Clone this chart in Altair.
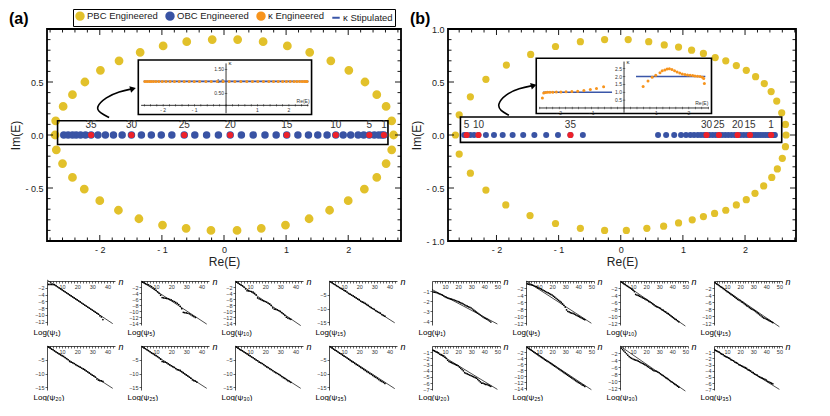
import altair as alt
import pandas as pd

FONT = "Liberation Sans"
YELLOW = "#E2C12B"
BLUE = "#3953A4"
RED = "#EE2129"
ORANGE = "#F7941D"
SBLUE = "#3A56A8"
SERIES = ["PBC Engineered", "OBC Engineered", "κ Engineered", "κ Stipulated"]
SER_COLORS = [YELLOW, BLUE, ORANGE, SBLUE]
SER_SHAPES = ["circle", "circle", "circle", "stroke"]

# ---------------- panel (a) data ----------------
a_pbc_x = [-2.72, -2.71, -2.59, -2.44, -2.24, -1.99, -1.69, -1.35, -0.98, -0.60, -0.19,
           0.22, 0.63, 1.02, 1.38, 1.72, 2.01, 2.27, 2.46, 2.61, 2.70, 2.73,
           2.70, 2.61, 2.46, 2.26, 2.00, 1.70, 1.37, 0.99, 0.60, 0.21,
           -0.21, -0.61, -0.99, -1.37, -1.70, -2.00, -2.25, -2.44, -2.60, -2.70]
a_pbc_y = [0.0, 0.134, 0.27, 0.38, 0.50, 0.61, 0.70, 0.78, 0.84, 0.88, 0.90,
           0.90, 0.88, 0.84, 0.78, 0.70, 0.61, 0.50, 0.38, 0.27, 0.134, 0.0,
           -0.14, -0.27, -0.40, -0.51, -0.62, -0.71, -0.79, -0.85, -0.88, -0.90,
           -0.90, -0.88, -0.85, -0.79, -0.71, -0.62, -0.51, -0.40, -0.27, -0.14]
a_obc_x = [-2.58, -2.51, -2.44, -2.38, -2.31, -2.23, -2.14, -2.03, -1.91, -1.78,
           -1.64, -1.49, -1.33, -1.17, -1.01, -0.84, -0.64, -0.47, -0.28, -0.09,
           0.10, 0.28, 0.47, 0.66, 0.84, 1.01, 1.19, 1.36, 1.51, 1.66,
           1.80, 1.92, 2.04, 2.16, 2.25, 2.34, 2.42, 2.49, 2.54, 2.575]
a_red_x = [2.575, 2.34, 1.80, 1.01, 0.10, -0.64, -1.49, -2.14]
a_red_lab = ["1", "5", "10", "15", "20", "25", "30", "35"]
a_kappa_x = a_obc_x
a_kappa_y = [1.0, 1.0, 1.0, 1.0, 1.0, 1.0, 1.0, 1.0, 1.0, 1.0,
             1.0, 1.0, 1.0, 1.0, 1.0, 1.0, 1.0, 1.0, 1.0, 1.0,
             1.0, 1.0, 1.0, 1.0, 1.0, 1.0, 1.0, 1.0, 1.0, 1.0,
             1.0, 1.0, 1.0, 1.0, 1.0, 1.0, 1.0, 1.0, 1.0, 1.0]
a_stip_x = [-2.62, 2.62]
a_stip_y = [1.0, 1.0]
a_stip_seg = ["s1", "s1"]
a_arrow_x = [-1.85, -2.0, -2.07, -1.90, -1.69, -1.465]
a_arrow_y = [0.165, 0.21, 0.26, 0.357, 0.41, 0.437]

# ---------------- panel (b) data ----------------
b_pbc_x = [-2.66, -2.60, -2.42, -2.17, -1.84, -1.45, -1.05, -0.65, -0.26, 0.12, 0.45,
           0.70, 0.93, 1.14, 1.33, 1.52, 1.69, 1.86, 2.02, 2.17, 2.31, 2.42, 2.51,
           2.59, 2.65, 2.66,
           -2.60, -2.42, -2.17, -1.85, -1.46, -1.05, -0.65, -0.26, 0.09, 0.42, 0.69,
           0.93, 1.15, 1.33, 1.51, 1.69, 1.86, 2.02, 2.16, 2.30, 2.43, 2.52, 2.60, 2.65]
b_pbc_y = [0.0, 0.19, 0.36, 0.525, 0.66, 0.76, 0.835, 0.88, 0.90, 0.90, 0.88,
           0.85, 0.83, 0.80, 0.77, 0.73, 0.70, 0.655, 0.61, 0.55, 0.485, 0.41, 0.32,
           0.21, 0.10, 0.0,
           -0.18, -0.36, -0.52, -0.66, -0.76, -0.835, -0.88, -0.90, -0.90, -0.88, -0.86,
           -0.83, -0.80, -0.77, -0.74, -0.71, -0.66, -0.61, -0.55, -0.48, -0.40, -0.32, -0.22, -0.11]
b_obc_x = [-2.52, -2.48, -2.42, -2.36, -2.29, -2.17, -2.04, -1.90, -1.74, -1.57,
           -1.39, -1.20, -1.01, -0.81, -0.61,
           0.60, 0.73, 0.86, 0.97, 1.05, 1.12, 1.18, 1.24, 1.29, 1.34, 1.38, 1.43,
           1.48, 1.53, 1.58, 1.63, 1.68, 1.73, 1.78, 1.83, 1.88, 1.93, 1.98, 2.03,
           2.08, 2.13, 2.17, 2.21, 2.25, 2.29, 2.33, 2.37, 2.40, 2.43, 2.46, 2.48]
b_red_x = [-2.48, -2.29, -0.81, 1.38, 1.58, 1.88, 2.08, 2.42]
b_red_lab = ["5", "10", "35", "30", "25", "20", "15", "1"]
b_kappa_x = [-2.52, -2.48, -2.42, -2.36, -2.29, -2.20, -2.09, -1.95, -1.79, -1.61,
             -1.43, -1.24, -1.04, -0.85, -0.63,
             0.59, 0.74, 0.87, 0.98, 1.11, 1.18, 1.26, 1.33, 1.40, 1.48, 1.56, 1.64,
             1.72, 1.80, 1.88, 1.96, 2.04, 2.12, 2.19, 2.27, 2.35, 2.42, 2.46, 2.48]
b_kappa_y = [0.64, 0.95, 0.99, 1.0, 1.0, 1.0, 1.01, 1.02, 1.03, 1.05,
             1.07, 1.11, 1.17, 1.23, 1.35,
             1.37, 1.72, 1.96, 2.08, 2.24, 2.37, 2.41, 2.47, 2.49, 2.45, 2.37, 2.29,
             2.23, 2.16, 2.12, 2.10, 2.08, 2.06, 2.04, 2.02, 2.00, 1.96, 1.88, 1.55]
b_stip_x = [-2.50, -0.37, 0.37, 2.51]
b_stip_y = [1.0, 1.0, 2.0, 2.0]
b_stip_seg = ["s1", "s1", "s2", "s2"]
b_arrow_x = [-1.80, -1.94, -1.99, -1.85, -1.64, -1.40]
b_arrow_y = [0.187, 0.23, 0.29, 0.385, 0.44, 0.468]

# ---------------- small panels: log|psi_n| vs n ----------------
a_labels = ["Log(ψ₁)", "Log(ψ₅)", "Log(ψ₁₀)", "Log(ψ₁₅)", "Log(ψ₂₀)", "Log(ψ₂₅)", "Log(ψ₃₀)", "Log(ψ₃₅)"]
b_labels = ["Log(ψ₁)", "Log(ψ₅)", "Log(ψ₁₀)", "Log(ψ₁₅)", "Log(ψ₂₀)", "Log(ψ₂₅)", "Log(ψ₃₀)", "Log(ψ₃₅)"]
a_psi = [
    [-1.0, -1.0, -1.0, -1.05, -1.1, -1.4, -1.7, -2.0, -2.3, -2.6, -2.9, -3.2, -3.5, -3.8, -4.1, -4.4,
     -4.7, -5.0, -5.3, -5.6, -5.9, -6.2, -6.5, -6.8, -7.1, -7.4, -7.7, -8.0, -8.3, -8.6, -8.9, -9.2,
     -9.5, -9.8, -10.3, -10.6, -11.4],
    [-0.4, -0.6, -0.9, -1.1, -1.3, -1.6, -1.9, -2.3, -2.7, -3.1, -3.6, -4.1, -4.7, -5.5, -5.6, -5.7,
     -5.8, -5.9, -6.1, -6.3, -6.6, -6.8, -7.1, -7.4, -7.8, -8.4, -9.2, -10.4, -10.5, -10.6, -10.7,
     -10.9, -11.2, -11.5, -11.8, -12.1],
    [-0.4, -0.7, -1.0, -1.3, -1.6, -2.0, -2.6, -3.2, -3.3, -3.4, -3.5, -3.7, -4.1, -4.6, -5.6, -5.9,
     -6.1, -6.4, -6.6, -6.8, -7.0, -7.3, -7.6, -8.1, -8.9, -9.3, -9.4, -9.6, -9.8, -10.1, -10.5,
     -10.9, -11.4, -12.0, -12.3, -12.5, -12.7],
    [-0.3, -0.6, -1.0, -1.3, -1.7, -2.0, -2.4, -2.7, -3.0, -3.4, -3.6, -4.0, -4.5, -4.8, -5.1, -5.4,
     -5.8, -6.1, -6.5, -6.8, -7.3, -7.6, -7.8, -8.1, -8.5, -8.9, -9.3, -9.7, -10.0, -10.3, -10.8,
     -11.1, -11.4, -11.7, -12.2, -12.5, -12.8],
    [-0.4, -0.7, -1.1, -1.4, -1.8, -2.2, -2.5, -2.9, -3.2, -3.5, -3.8, -4.2, -4.6, -5.0, -5.6, -5.9,
     -6.1, -6.4, -6.8, -7.1, -7.4, -7.7, -8.0, -8.3, -8.6, -9.0, -9.4, -9.8, -10.2, -10.6, -10.9,
     -11.3, -12.0, -12.4, -12.6, -12.7, -12.9],
    [-0.3, -0.7, -1.0, -1.4, -1.7, -2.1, -2.5, -2.8, -3.2, -3.5, -3.9, -4.3, -4.8, -5.6, -5.8, -5.9,
     -6.1, -6.5, -6.9, -7.2, -7.5, -7.8, -8.2, -8.6, -8.7, -8.9, -9.3, -9.7, -10.1, -10.5, -10.9,
     -11.3, -11.7, -12.3, -12.6, -12.8, -13.1],
    [-0.4, -0.8, -1.2, -1.5, -1.8, -2.2, -2.5, -2.9, -3.3, -3.6, -4.0, -4.3, -4.7, -5.1, -5.4, -5.9,
     -6.1, -6.4, -6.8, -7.2, -7.6, -7.9, -8.3, -8.6, -9.0, -9.4, -9.7, -10.0, -10.3, -10.7, -11.1,
     -11.5, -11.8, -12.2, -12.6, -12.9, -13.2],
    [-0.3, -0.7, -1.1, -1.5, -1.8, -2.2, -2.6, -2.9, -3.3, -3.7, -4.0, -4.4, -4.8, -5.2, -5.6, -5.9,
     -6.3, -6.7, -7.0, -7.4, -7.8, -8.1, -8.5, -8.9, -9.3, -9.6, -10.0, -10.3, -10.7, -11.1, -11.4,
     -11.8, -12.2, -12.6, -12.9, -13.2, -13.6],
]
a_line_y0 = [0.3, 0.0, 0.0, 0.0, 0.0, 0.0, 0.0, 0.0]
a_line_y1 = [-12.6, -14.3, -14.8, -15.2, -15.4, -15.4, -15.4, -15.5]
a_yticks = [[-2, -4, -6, -8, -10, -12]] + [[-2, -4, -6, -8, -10, -12, -14]] * 2 + [[-5, -10, -15]] * 5
a_ydom = [[-13, 0], [-14.6, 0], [-14.6, 0], [-16, 0], [-16, 0], [-16, 0], [-16, 0], [-16, 0]]

b_psi = [
    [-1.10, -1.12, -1.15, -1.18, -1.25, -1.30, -1.35, -1.42, -1.50, -1.58, -1.64, -1.70, -1.74, -1.78,
     -1.82, -1.86, -1.90, -1.95, -2.00, -2.06, -2.12, -2.18, -2.24, -2.30, -2.38, -2.46, -2.52, -2.58,
     -2.63, -2.70, -2.80, -2.92, -3.02, -3.12, -3.22, -3.30, -3.40, -3.50, -3.60, -3.68, -3.75, -3.82,
     -3.90, -4.00, -4.10],
    [-0.8, -0.9, -1.0, -1.1, -1.2, -1.3, -1.5, -1.6, -1.8, -2.0, -2.2, -2.4, -2.6, -2.8, -3.0, -3.2,
     -3.4, -3.6, -3.8, -4.0, -4.3, -4.6, -4.9, -5.2, -5.5, -5.8, -6.1, -6.5, -6.9, -7.4, -8.2, -8.6,
     -8.8, -9.0, -9.1, -9.2, -9.4, -9.6, -9.8, -10.0, -10.2, -10.4, -10.6, -10.8, -11.0],
    [-0.3, -0.5, -0.8, -1.0, -1.3, -1.5, -1.8, -2.0, -2.3, -2.6, -3.0, -3.8, -4.0, -4.1, -4.3, -4.5,
     -4.7, -4.9, -5.1, -5.3, -5.5, -5.8, -6.0, -6.2, -6.5, -6.8, -7.1, -7.3, -7.4, -7.6, -7.8, -8.1,
     -8.3, -8.6, -8.8, -9.1, -9.3, -9.6, -9.9, -10.2, -10.5, -10.8, -11.0, -11.3, -11.6],
    [-0.5, -0.8, -1.0, -1.3, -1.6, -1.8, -2.1, -2.4, -2.7, -3.0, -3.2, -3.5, -3.8, -4.0, -4.3, -4.6,
     -4.9, -5.2, -5.4, -5.6, -5.9, -6.1, -6.4, -6.7, -7.0, -7.2, -7.5, -7.8, -8.0, -8.2, -8.4, -8.7,
     -9.0, -9.3, -9.6, -9.9, -10.2, -10.5, -10.6, -10.8, -11.0, -11.2, -11.4, -11.6, -11.8],
    [-0.7, -0.8, -0.9, -1.0, -1.1, -1.3, -1.4, -1.5, -1.6, -1.8, -2.0, -2.3, -2.5, -2.6, -2.7, -2.8,
     -2.9, -3.0, -3.1, -3.2, -3.4, -3.6, -3.8, -4.0, -4.3, -4.4, -4.5, -4.6, -4.7, -4.8, -4.9, -5.0,
     -5.1, -5.2, -5.4, -5.6, -5.8, -6.0, -6.0, -6.1, -6.2, -6.2, -6.3, -6.4, -6.5],
    [-0.5, -0.8, -1.1, -1.4, -1.7, -2.0, -2.3, -2.6, -2.9, -3.2, -3.5, -3.8, -4.1, -4.4, -4.7, -5.0,
     -5.2, -5.5, -5.8, -6.1, -6.4, -6.7, -7.0, -7.3, -7.6, -7.9, -8.2, -8.5, -8.8, -9.1, -9.4, -9.7,
     -10.0, -10.3, -10.6, -10.9, -11.2, -11.5, -11.8, -12.1, -12.3, -12.6, -12.9, -13.1, -13.4],
    [-0.6, -1.0, -1.4, -1.8, -2.2, -2.6, -3.0, -3.3, -3.5, -3.7, -3.9, -4.0, -4.1, -4.3, -4.5, -4.7,
     -4.9, -5.1, -5.3, -5.5, -5.8, -6.0, -6.3, -6.5, -6.8, -7.0, -7.1, -7.2, -7.4, -7.6, -7.9, -8.2,
     -8.4, -8.7, -9.0, -9.2, -9.5, -9.8, -10.1, -10.3, -10.6, -10.9, -11.1, -11.4, -11.7],
    [-0.7, -0.8, -0.9, -1.0, -1.2, -1.3, -1.4, -1.6, -1.7, -1.8, -1.9, -2.0, -2.2, -2.3, -2.4, -2.6,
     -2.7, -2.8, -3.0, -3.1, -3.2, -3.3, -3.4, -3.5, -3.6, -3.8, -3.9, -4.0, -4.2, -4.3, -4.5, -4.6,
     -4.7, -4.9, -5.0, -5.1, -5.2, -5.3, -5.4, -5.5, -5.7, -5.8, -5.9, -6.0, -6.1],
]
b_line_y0 = [-0.85, 0.0, 0.0, -0.3, -0.6, -0.2, 0.0, -0.5]
b_line_y1 = [-4.3, -12.0, -12.8, -13.0, -7.0, -14.5, -12.8, -7.0]
b_yticks = [[-1, -2, -3, -4], [-2, -4, -6, -8, -10, -12], [-2, -4, -6, -8, -10, -12],
            [-2, -4, -6, -8, -10, -12], [-1, -2, -3, -4, -5, -6, -7],
            [-2, -4, -6, -8, -10, -12, -14], [-2, -4, -6, -8, -10, -12], [-1, -2, -3, -4, -5, -6, -7]]
b_ydom = [[-4.4, 0], [-12.5, 0], [-12.5, 0], [-12.5, 0], [-7.1, 0], [-14.6, 0], [-12.5, 0], [-7.1, 0]]


def fmt(d):
    return ("datum.value < 0 ? '- ' + format(-datum.value, '%s') : format(datum.value, '%s')" % (d, d))


PANELS = {
    "a": dict(W=354, H=212, xdom=[-2.85, 2.85], ylab=[-0.5, 0, 0.5],
              pbc=(a_pbc_x, a_pbc_y), obc=a_obc_x, red=(a_red_x, a_red_lab),
              box=[-2.68, 2.64, -0.09, 0.134],
              frame=[-1.38, 1.41, 0.194, 0.707], in_x=[-2.79, 2.72], in_y=[-0.38, 1.89],
              haxis=[-2.7, 2.62], vaxis=[-0.33, 1.75],
              kap=(a_kappa_x, a_kappa_y), stip=(a_stip_x, a_stip_y, a_stip_seg),
              kx=[-2, -1, 1, 2], ky=[0.5, 1.0, 1.5], kyl=["0.50", "1.0", "1.50"],
              klab=(0.08, 1.78), relab=(2.45, 0.2),
              arrow=(a_arrow_x, a_arrow_y), tag="(a)"),
    "b": dict(W=348, H=212, xdom=[-2.78, 2.82], ylab=[-1, -0.5, 0, 0.5, 1],
              pbc=(b_pbc_x, b_pbc_y), obc=b_obc_x, red=(b_red_x, b_red_lab),
              box=[-2.58, 2.59, -0.07, 0.17],
              frame=[-1.36, 1.46, 0.203, 0.724], in_x=[-2.71, 2.70], in_y=[-0.35, 3.16],
              haxis=[-2.62, 2.62], vaxis=[-0.3, 2.95],
              kap=(b_kappa_x, b_kappa_y), stip=(b_stip_x, b_stip_y, b_stip_seg),
              kx=[-2, -1, 1, 2], ky=[0.5, 1.0, 1.5, 2.0, 2.5], kyl=["0.5", "1.0", "1.5", "2.0", "2.5"],
              klab=(0.08, 2.9), relab=(2.4, 0.3),
              arrow=(b_arrow_x, b_arrow_y), tag="(b)"),
}


def build_panel(p, with_legend):
    W, H = p["W"], p["H"]
    xd, yd = p["xdom"], [-1.0, 1.0]
    X = alt.X("x:Q", scale=alt.Scale(domain=xd, nice=False, zero=False),
              axis=alt.Axis(values=[-2, -1, 0, 1, 2], labelExpr=fmt("d"), title="Re(E)",
                            ticks=False, domain=False, grid=False, labelFontSize=9,
                            labelColor="#222", labelPadding=4, titleFontSize=12,
                            titleFontWeight="normal", titlePadding=2, titleColor="#222"))
    Y = alt.Y("y:Q", scale=alt.Scale(domain=yd, nice=False, zero=False),
              axis=alt.Axis(values=p["ylab"], labelExpr=fmt(".1f"), title="Im(E)",
                            ticks=False, domain=False, grid=False, labelFontSize=9,
                            labelColor="#222", labelPadding=4, titleFontSize=12,
                            titleFontWeight="normal", titlePadding=2, titleColor="#222"))
    layers = []
    pbc_df = pd.DataFrame({"x": p["pbc"][0], "y": p["pbc"][1], "series": SERIES[0]})
    obc_df = pd.DataFrame({"x": p["obc"], "y": [0.0] * len(p["obc"]), "series": SERIES[1]})
    if with_legend:
        leg = alt.Legend(title=None, orient="none", legendX=26, legendY=-20, direction="horizontal",
                         strokeColor="black", padding=2, labelFontSize=9.5, labelColor="#222",
                         symbolSize=55, symbolStrokeWidth=2, columnPadding=4, labelOffset=2,
                         fillColor="white")
        enc = dict(
            color=alt.Color("series:N", scale=alt.Scale(domain=SERIES, range=SER_COLORS), legend=leg),
            shape=alt.Shape("series:N", scale=alt.Scale(domain=SERIES, range=SER_SHAPES), legend=leg),
            stroke=alt.Stroke("series:N", scale=alt.Scale(domain=SERIES, range=SER_COLORS), legend=leg),
        )
        layers.append(alt.Chart(pbc_df).mark_point(filled=True, opacity=1, size=46).encode(x=X, y=Y, **enc))
        obc_layer = alt.Chart(obc_df).mark_point(filled=True, opacity=1, size=30).encode(x=X, y=Y, **enc)
    else:
        layers.append(alt.Chart(pbc_df).mark_point(filled=True, opacity=1, size=52, shape="circle",
                                                   color=YELLOW).encode(x=X, y=Y))
        obc_layer = alt.Chart(obc_df).mark_point(filled=True, opacity=1, size=36, shape="circle",
                                                 color=BLUE).encode(x=X, y=Y)
    bx = p["box"]
    box_df = pd.DataFrame({"x": [bx[0]], "x2": [bx[1]], "y": [bx[2]], "y2": [bx[3]]})
    layers.append(alt.Chart(box_df).mark_rect(fillOpacity=0, stroke="black", strokeWidth=1.6)
                  .encode(x=X, x2="x2:Q", y=Y, y2="y2:Q"))
    layers.append(obc_layer)
    red_df = pd.DataFrame({"x": p["red"][0], "y": [0.0] * len(p["red"][0]), "lab": p["red"][1]})
    layers.append(alt.Chart(red_df).mark_point(filled=True, opacity=1, size=38, shape="circle",
                                               color=RED).encode(x=X, y=Y))
    lab_df = pd.DataFrame({"x": p["red"][0], "y": [0.045] * len(p["red"][0]), "lab": p["red"][1]})
    layers.append(alt.Chart(lab_df).mark_text(fontSize=10, baseline="bottom", color="#333")
                  .encode(x=X, y=Y, text="lab:N"))
    fr = p["frame"]
    fr_df = pd.DataFrame({"x": [fr[0]], "x2": [fr[1]], "y": [fr[2]], "y2": [fr[3]]})
    layers.append(alt.Chart(fr_df).mark_rect(fill="white", stroke="black", strokeWidth=1.6)
                  .encode(x=X, x2="x2:Q", y=Y, y2="y2:Q"))
    ar_df = pd.DataFrame({"x": p["arrow"][0], "y": p["arrow"][1], "o": list(range(len(p["arrow"][0])))})
    layers.append(alt.Chart(ar_df).mark_line(interpolate="basis", color="black", strokeWidth=1.6)
                  .encode(x=X, y=Y, order="o:O"))
    layers.append(alt.Chart(ar_df.tail(1)).mark_point(shape="triangle-right", filled=True, opacity=1,
                                                      size=45, angle=345, color="black")
                  .encode(x=X, y=Y))
    # inward frame ticks
    xmaj = [-2, -1, 0, 1, 2]
    xmin = [round(-2.8 + 0.2 * i, 1) for i in range(29)]
    xmin = [v for v in xmin if abs(v - round(v)) > 1e-6 and xd[0] < v < xd[1]]
    ymaj = [-0.5, 0.0, 0.5]
    ymin = [round(-0.9 + 0.1 * i, 1) for i in range(19)]
    ymin = [v for v in ymin if abs(v * 2 - round(v * 2)) > 1e-6]
    for vals, L in ((xmaj, 6), (xmin, 3.5)):
        tdf = pd.DataFrame({"x": vals})
        base = alt.Chart(tdf).mark_rule(color="black", strokeWidth=0.9)
        layers.append(base.encode(x=X, y=alt.value(0), y2=alt.value(L)))
        layers.append(base.encode(x=X, y=alt.value(H - L), y2=alt.value(H)))
    for vals, L in ((ymaj, 6), (ymin, 3.5)):
        tdf = pd.DataFrame({"y": vals})
        base = alt.Chart(tdf).mark_rule(color="black", strokeWidth=0.9)
        layers.append(base.encode(y=Y, x=alt.value(0), x2=alt.value(L)))
        layers.append(base.encode(y=Y, x=alt.value(W - L), x2=alt.value(W)))
    tag_df = pd.DataFrame({"t": [p["tag"]]})
    layers.append(alt.Chart(tag_df).mark_text(fontSize=16, fontWeight="bold", align="left",
                                              baseline="bottom", color="black")
                  .encode(x=alt.value(-38), y=alt.value(-2), text="t:N"))
    main = alt.layer(*layers)

    # ---- inset, own scales mapped into the frame ----
    def px(v):
        return (v - xd[0]) / (xd[1] - xd[0]) * W

    def py(v):
        return (yd[1] - v) / (yd[1] - yd[0]) * H

    XI = alt.X("x:Q", scale=alt.Scale(domain=p["in_x"], range=[px(fr[0]), px(fr[1])], nice=False, zero=False),
               axis=None)
    YI = alt.Y("y:Q", scale=alt.Scale(domain=p["in_y"], range=[py(fr[2]), py(fr[3])], nice=False, zero=False),
               axis=None)
    il = []
    il.append(alt.Chart(pd.DataFrame({"x": [p["haxis"][0]], "x2": [p["haxis"][1]], "y": [0.0]}))
              .mark_rule(color="black", strokeWidth=0.8).encode(x=XI, x2="x2:Q", y=YI))
    il.append(alt.Chart(pd.DataFrame({"x": [0.0], "y": [p["vaxis"][0]], "y2": [p["vaxis"][1]]}))
              .mark_rule(color="black", strokeWidth=0.8).encode(x=XI, y=YI, y2="y2:Q"))
    tx = [round(-2.6 + 0.2 * i, 1) for i in range(27)]
    il.append(alt.Chart(pd.DataFrame({"x": tx, "y": [0.0] * len(tx)}))
              .mark_tick(orient="vertical", size=2.5, thickness=0.6, color="black").encode(x=XI, y=YI))
    il.append(alt.Chart(pd.DataFrame({"x": [0.0] * len(p["ky"]), "y": p["ky"]}))
              .mark_tick(orient="horizontal", size=2.5, thickness=0.6, color="black").encode(x=XI, y=YI))
    il.append(alt.Chart(pd.DataFrame({"x": p["kx"], "y": [0.0] * len(p["kx"]),
                                      "t": ["- %d" % (-v) if v < 0 else "%d" % v for v in p["kx"]]}))
              .mark_text(fontSize=5, baseline="top", dy=3, color="#333").encode(x=XI, y=YI, text="t:N"))
    il.append(alt.Chart(pd.DataFrame({"x": [0.0] * len(p["ky"]), "y": p["ky"], "t": p["kyl"]}))
              .mark_text(fontSize=5, align="right", dx=-2, color="#333").encode(x=XI, y=YI, text="t:N"))
    il.append(alt.Chart(pd.DataFrame({"x": [p["klab"][0]], "y": [p["klab"][1]], "t": ["κ"]}))
              .mark_text(fontSize=6, align="left", color="#333").encode(x=XI, y=YI, text="t:N"))
    il.append(alt.Chart(pd.DataFrame({"x": [p["relab"][0]], "y": [p["relab"][1]], "t": ["Re(E)"]}))
              .mark_text(fontSize=5, align="center", color="#333").encode(x=XI, y=YI, text="t:N"))
    sdf = pd.DataFrame({"x": p["stip"][0], "y": p["stip"][1], "seg": p["stip"][2]})
    il.append(alt.Chart(sdf).mark_line(color=SBLUE, strokeWidth=1.6).encode(x=XI, y=YI, detail="seg:N"))
    kdf = pd.DataFrame({"x": p["kap"][0], "y": p["kap"][1]})
    il.append(alt.Chart(kdf).mark_circle(color=ORANGE, size=9, opacity=1).encode(x=XI, y=YI))
    inset = alt.layer(*il)

    return (alt.layer(main, inset)
            .resolve_scale(x="independent", y="independent")
            .properties(width=W, height=H, view=alt.ViewBackground(stroke="black", strokeWidth=1.8)))


SW, SH = 68, 44


def small(vals, y0, y1, x1, xmax, yvals, ydom, label):
    ddf = pd.DataFrame({"n": list(range(1, len(vals) + 1)), "v": vals})
    ldf = pd.DataFrame({"n": [0, x1], "v": [y0, y1]})
    X = alt.X("n:Q", scale=alt.Scale(domain=[0, xmax], nice=False, zero=False),
              axis=alt.Axis(orient="bottom", offset=-SH, values=list(range(2, xmax + 1, 2)),
                            labelExpr="datum.value % 10 === 0 ? datum.label : ''",
                            labelFontSize=5.5, labelPadding=1, labelOverlap=False, labelColor="#333",
                            tickSize=2, tickWidth=0.6, tickColor="black", domainColor="black",
                            domainWidth=0.7, grid=False, title="n", titleX=SW + 3, titleY=0,
                            titleAlign="left", titleBaseline="middle", titleFontSize=9,
                            titleFontStyle="italic", titleFontWeight="normal", titleColor="black"))
    Y = alt.Y("v:Q", scale=alt.Scale(domain=ydom, nice=False, zero=False),
              axis=alt.Axis(values=yvals, format="d", labelFontSize=5.5, labelPadding=1, labelColor="#333",
                            tickSize=2, tickWidth=0.6, tickColor="black", domainColor="black",
                            domainWidth=0.7, grid=False, title=label, titleAngle=0, titleX=-14,
                            titleY=SH + 3, titleAlign="left", titleBaseline="top", titleFontSize=8,
                            titleFontWeight="normal", titleColor="black"))
    line = alt.Chart(ldf).mark_line(color="black", strokeWidth=0.7, clip=False).encode(x=X, y=Y)
    dots = alt.Chart(ddf).mark_circle(color="black", size=3, opacity=1).encode(x=X, y=Y)
    return alt.layer(line, dots).properties(width=SW, height=SH)


a_cells = [small(a_psi[i], a_line_y0[i], a_line_y1[i], 43.5, 45, a_yticks[i], a_ydom[i], a_labels[i])
           for i in range(8)]
b_cells = [small(b_psi[i], b_line_y0[i], b_line_y1[i], 50, 52, b_yticks[i], b_ydom[i], b_labels[i])
           for i in range(8)]

grid_a = alt.vconcat(alt.hconcat(*a_cells[:4], spacing=3), alt.hconcat(*a_cells[4:], spacing=3), spacing=6)
grid_b = alt.vconcat(alt.hconcat(*b_cells[:4], spacing=3), alt.hconcat(*b_cells[4:], spacing=3), spacing=6)

top = alt.hconcat(build_panel(PANELS["a"], True), build_panel(PANELS["b"], False), spacing=6)
bottom = alt.hconcat(grid_a, grid_b, spacing=12)

chart = (alt.vconcat(top, bottom, spacing=9)
         .resolve_scale(color="independent", shape="independent", stroke="independent")
         .properties(padding=0)
         .configure(font=FONT)
         .configure_view(stroke=None)
         .configure_axis(labelFont=FONT, titleFont=FONT)
         .configure_legend(labelFont=FONT))

chart.save("out.html", embed_options={"renderer": "svg", "actions": False})
